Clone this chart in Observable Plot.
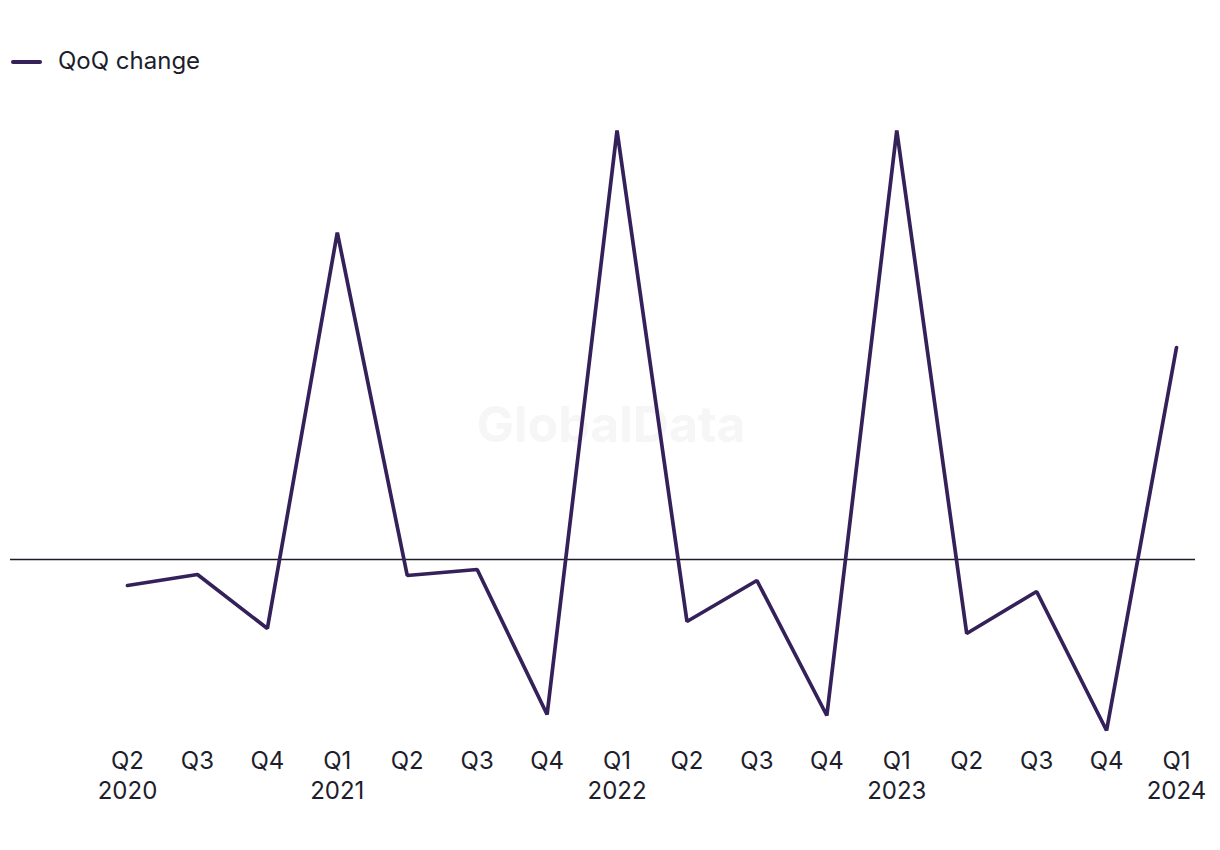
<!DOCTYPE html>
<html>
<head>
<meta charset="utf-8">
<script src="https://cdn.jsdelivr.net/npm/d3@7"></script>
<script src="https://cdn.jsdelivr.net/npm/@observablehq/plot@0.6"></script>
<style>
  html, body { margin: 0; padding: 0; background: #fff; }
  body { width: 1220px; height: 850px; font-family: Inter, Roboto, sans-serif; }
  #legend { height: 100px; position: relative; }
  #legend .sw { position: absolute; left: 11px; top: 60px; width: 31px; height: 4px; background: #35215a; border-radius: 2px; }
  #legend .lb { position: absolute; left: 58px; top: 46px; font-size: 24px; line-height: 30px; color: #1d1d2b; }
</style>
</head>
<body>
<div id="legend"><span class="sw"></span><span class="lb">QoQ change</span></div>
<div id="chart"></div>
<script>
const quarters = ["Q2","Q3","Q4","Q1","Q2","Q3","Q4","Q1","Q2","Q3","Q4","Q1","Q2","Q3","Q4","Q1"];
const years    = ["2020","","","2021","","","","2022","","","","2023","","","","2024"];
const qoqChange = [-2.6,-1.5,-6.9,32.7,-1.6,-1.0,-15.5,42.9,-6.2,-2.1,-15.6,42.9,-7.4,-3.2,-17.1,21.2];

const labels = quarters.map((q, i) => years[i] ? q + "\n" + years[i] : q);
const data = qoqChange.map((v, i) => ({key: i, label: labels[i], value: v}));

const chart = Plot.plot({
  width: 1220,
  height: 750,
  marginLeft: 10,
  marginRight: 25,
  marginTop: 0,
  marginBottom: 105,
  style: {fontFamily: "Inter, Roboto, sans-serif", color: "#1d1d2b", background: "#fff"},
  x: {type: "point", domain: d3.range(16), range: [127, 1176], padding: 0, round: false},
  y: {domain: [-20, 45], range: [659, 9]},
  marks: [
    Plot.text(["GlobalData"], {frameAnchor: "middle", dx: 8, dy: 3, fontSize: 50, fontWeight: "bold", fill: "#f6f6f6"}),
    Plot.ruleY([0], {stroke: "#1d1d2b", strokeWidth: 1.5}),
    Plot.line(data, {x: "key", y: "value", stroke: "#35215a", strokeWidth: 3.7, strokeLinejoin: "miter"}),
    Plot.axisX({tickSize: 0, tickPadding: 2, fontSize: 24, lineHeight: 1.25, tickFormat: i => labels[i], label: null, fill: "#1d1d2b"}),
    Plot.axisY({ticks: [], label: null})
  ]
});
document.getElementById("chart").appendChild(chart);
</script>
</body>
</html>
